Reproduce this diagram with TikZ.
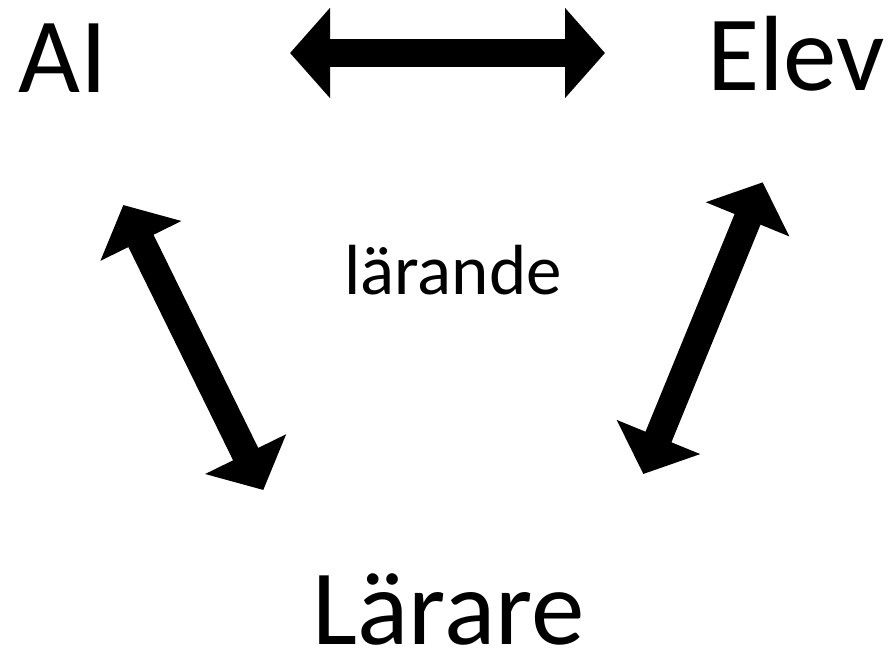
\documentclass[tikz,border=0pt]{standalone}
\usepackage{fontspec}
\setmainfont{Carlito}
\usepackage{tikz}
\usetikzlibrary{arrows.meta}
\tikzstyle{party} = [inner sep=0pt, anchor=base, text depth=0pt, font=\fontsize{107}{120}\selectfont]
\tikzstyle{centre} = [inner sep=0pt, anchor=base, font=\fontsize{71}{80}\selectfont]
\tikzstyle{arrow} = [line width=28pt, black,
                    {Triangle[length=40pt,width=88pt]}-{Triangle[length=40pt,width=88pt]}]

\begin{document}
\begin{tikzpicture}[x=1pt, y=-1pt]

    \useasboundingbox (0,0) rectangle (889,649);

    \node[party] (ai) at (63,92.7) {AI};
    \node[party] (elev) at (796,90.7) {Elev};
    \node[party] (larare) at (448.5,644) {Lärare};
    \node[centre] (larande) at (453,294) {lärande};

    \coordinate (top left) at (290,53);
    \coordinate (top right) at (605,53);
    \coordinate (left up) at (123.3,205);
    \coordinate (left down) at (263.3,490);
    \coordinate (right up) at (762.7,182.3);
    \coordinate (right down) at (643.3,474);

    \draw[arrow] (top left) to (top right);
    \draw[arrow] (left up) to (left down);
    \draw[arrow] (right up) to (right down);

\end{tikzpicture}
\end{document}
